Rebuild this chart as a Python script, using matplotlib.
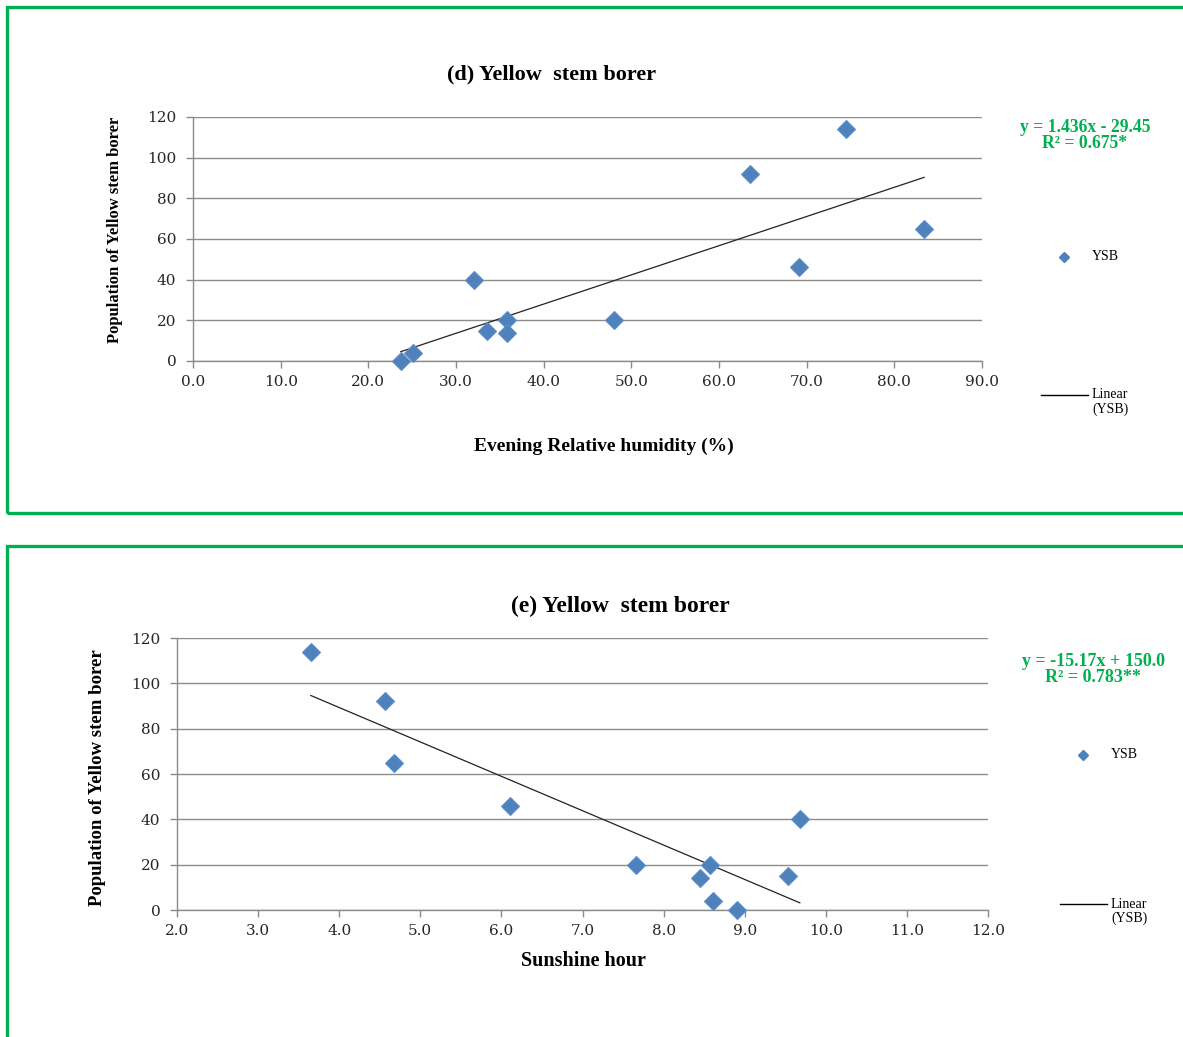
import matplotlib
matplotlib.use("Agg")
import matplotlib.pyplot as plt
from matplotlib.lines import Line2D
from matplotlib.patches import Rectangle
import numpy as np

# ---- data ----
ysb = [0, 4, 40, 15, 20, 14, 20, 92, 46, 114, 65]
evening_rh = [23.7, 25.1, 32.1, 33.5, 35.8, 35.8, 48.0, 63.5, 69.1, 74.5, 83.4]

sun_ysb = [114, 92, 65, 46, 20, 14, 20, 4, 0, 15, 40]
sunshine = [3.65, 4.56, 4.68, 6.11, 7.66, 8.45, 8.57, 8.61, 8.90, 9.53, 9.68]

fit_d = (1.436, -29.45)
fit_e = (-15.17, 150.0)

xticks_d = [0, 10, 20, 30, 40, 50, 60, 70, 80, 90]
xticks_e = [2, 3, 4, 5, 6, 7, 8, 9, 10, 11, 12]
yticks = [0, 20, 40, 60, 80, 100, 120]

W, H = 1183, 1037
fig = plt.figure(figsize=(W / 100, H / 100), dpi=100)

GREEN = "#00B050"
BLUE = "#4F81BD"
SERIF = "Liberation Serif"
TICKF = "DejaVu Serif"


def fx(px):
    return px / W


def fy(py):
    return 1 - py / H


# green panel borders
fig.add_artist(Rectangle((fx(7), fy(513)), fx(1300 - 7), fy(7) - fy(513),
                         transform=fig.transFigure, fill=False, edgecolor=GREEN,
                         linewidth=2.4, clip_on=False))
fig.add_artist(Rectangle((fx(7), fy(1200)), fx(1300 - 7), fy(546) - fy(1200),
                         transform=fig.transFigure, fill=False, edgecolor=GREEN,
                         linewidth=2.4, clip_on=False))


def make_panel(rect, x, y, fit, xticks, xlim, title, xlabel, title_pos, xlab_pos,
               ylab_pos, ylab_size, title_size, xlab_size, eq_lines, eq_pos, eq_size,
               leg_pos, lin_pos, xfmt):
    ax = fig.add_axes(rect)
    ax.set_xlim(*xlim)
    ax.set_ylim(0, 120)
    ax.set_yticks(yticks)
    ax.set_xticks(xticks)
    ax.set_xticklabels([xfmt % v for v in xticks])
    ax.grid(axis="y", color="#8C8C8C", linewidth=1.0)
    ax.set_axisbelow(True)
    for s in ["top", "right"]:
        ax.spines[s].set_visible(False)
    for s in ["left", "bottom"]:
        ax.spines[s].set_color("#8C8C8C")
        ax.spines[s].set_linewidth(1.0)
    ax.tick_params(axis="both", colors="#8C8C8C", length=5, width=1.0,
                   labelcolor="#262626", labelsize=11, labelfontfamily=TICKF)
    ax.tick_params(axis="x", pad=5)
    ax.tick_params(axis="y", pad=7)
    ax.plot(x, y, linestyle="none", marker="D", markersize=9.5,
            markerfacecolor=BLUE, markeredgecolor="#5B8FCB", markeredgewidth=0.8,
            clip_on=False, zorder=3)
    xs = np.array([min(x), max(x)])
    ax.plot(xs, fit[0] * xs + fit[1], color="#222222", linewidth=0.9, zorder=2)

    fig.text(fx(title_pos[0]), fy(title_pos[1]), title, ha="center", va="center",
             fontfamily=SERIF, fontweight="bold", fontsize=title_size)
    fig.text(fx(xlab_pos[0]), fy(xlab_pos[1]), xlabel, ha="center", va="center",
             fontfamily=SERIF, fontweight="bold", fontsize=xlab_size)
    fig.text(fx(ylab_pos[0]), fy(ylab_pos[1]), "Population of Yellow stem borer",
             ha="center", va="center", rotation=90, fontfamily=SERIF,
             fontweight="bold", fontsize=ylab_size)
    fig.text(fx(eq_pos[0]), fy(eq_pos[1]), eq_lines[0], ha="center", va="center",
             fontfamily=SERIF, fontweight="bold", fontsize=eq_size, color=GREEN)
    fig.text(fx(eq_pos[0]), fy(eq_pos[1] + 16), eq_lines[1], ha="center", va="center",
             fontfamily=SERIF, fontweight="bold", fontsize=eq_size, color=GREEN)
    # legend
    fig.add_artist(Line2D([fx(leg_pos[0])], [fy(leg_pos[1])], marker="D",
                          markersize=5, color=BLUE, transform=fig.transFigure))
    fig.text(fx(leg_pos[0] + 28), fy(leg_pos[1]), "YSB", ha="left", va="center",
             fontfamily=SERIF, fontsize=10)
    fig.add_artist(Line2D([fx(lin_pos[0]), fx(lin_pos[0] + 47)],
                          [fy(lin_pos[1]), fy(lin_pos[1])], color="black",
                          linewidth=1.0, transform=fig.transFigure))
    fig.text(fx(lin_pos[0] + 51), fy(lin_pos[1]), "Linear", ha="left", va="center",
             fontfamily=SERIF, fontsize=10)
    fig.text(fx(lin_pos[0] + 51), fy(lin_pos[1] + 14), "(YSB)", ha="left", va="center",
             fontfamily=SERIF, fontsize=10)
    return ax


make_panel([fx(193), fy(361), fx(982 - 193), fy(117) - fy(361)],
           evening_rh, ysb, fit_d, xticks_d, (0, 90),
           "(d) Yellow  stem borer", "Evening Relative humidity (%)",
           (552, 74), (604, 446), (115, 230), 12.0, 16, 14,
           ["y = 1.436x - 29.45", "R\u00b2 = 0.675*"], (1085, 128), 12.7,
           (1064, 257), (1041, 395), "%.1f")

make_panel([fx(177), fy(910), fx(988 - 177), fy(638) - fy(910)],
           sunshine, sun_ysb, fit_e, xticks_e, (2, 12),
           "(e) Yellow  stem borer", "Sunshine hour",
           (620, 606), (583, 961), (97, 778), 13.5, 17, 14.5,
           ["y = -15.17x + 150.0", "R\u00b2 = 0.783**"], (1093, 661), 13,
           (1083, 755), (1060, 904), "%.1f")

fig.savefig("out.png", dpi=100)
